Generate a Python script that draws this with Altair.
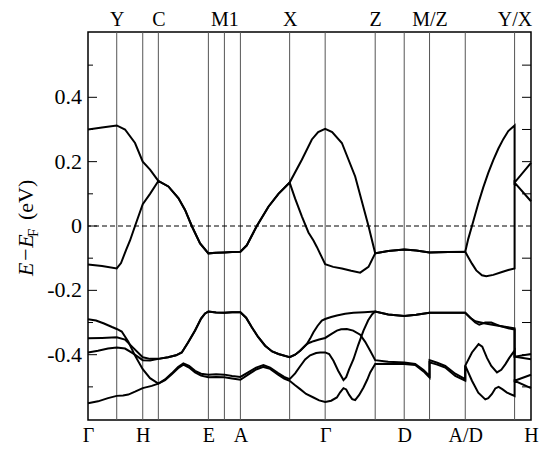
import altair as alt
import pandas as pd

# ---- k-path (high-symmetry points) ----
bottom_k = [0, 54.7, 120.3, 152.3, 237, 316, 377, 442.7]
bottom_names = ["Γ", "H", "E", "A", "Γ", "D", "A/D", "H"]
top_k = [28.7, 70.3, 136.3, 201.5, 287, 341.3, 426.3]
top_names = ["Y", "C", "M1", "X", "Z", "M/Z", "Y/X"]
sym_lines_k = [28.7, 54.7, 70.3, 120.3, 136.3, 152.3, 201.5, 237, 287, 316, 341.3, 377, 426.3]

# ---- y ticks ----
major_ticks = [-0.4, -0.2, 0, 0.2, 0.4]
major_labels = ["-0.4", "-0.2", "0", "0.2", "0.4"]
minor_ticks = [-0.5, -0.3, -0.1, 0.1, 0.3, 0.5]
right_ticks = [-0.5, -0.4, -0.3, -0.2, -0.1, 0.1, 0.2, 0.3, 0.4, 0.5]

# ---- bands near the Fermi level ----
u1_k = [0, 14, 28.7, 37, 47, 54.7, 62, 70.3, 80.3, 90.3, 97, 103.7, 112, 120.3, 128, 136.3, 144, 152.3,
        158.7, 168.7, 180.3, 190.3, 201.5, 213.7, 223.7, 230, 237, 244, 253.7, 267, 280.3, 287,
        300, 316, 328, 341.3, 360, 377, 380, 383.7, 390, 395, 400, 405, 410, 415, 420, 426.3, 426.3, 442.7]
u1_e = [0.30, 0.306, 0.3125, 0.30, 0.258, 0.20, 0.175, 0.14, 0.123, 0.087, 0.05, 0.0, -0.054, -0.085, -0.083, -0.082, -0.081, -0.08,
        -0.06, 0.0, 0.06, 0.10, 0.135, 0.206, 0.269, 0.292, 0.302, 0.292, 0.258, 0.154, 0.0, -0.085,
        -0.078, -0.073, -0.076, -0.082, -0.081, -0.08, -0.04, 0.0, 0.07, 0.12, 0.165, 0.205, 0.24, 0.27, 0.295, 0.3125, 0.135, 0.196]

u2_k = [0, 14, 28.7, 33, 38, 42, 47, 54.7, 62, 70.3, 80.3, 90.3, 97, 103.7, 112, 120.3, 128, 136.3, 144, 152.3,
        158.7, 168.7, 180.3, 190.3, 201.5, 207, 213.7, 220.3, 225.3, 228.7, 233, 237, 245, 253.7, 263, 272, 280.3, 287,
        300, 316, 328, 341.3, 360, 377, 380, 383.7, 388, 393.7, 398, 405, 413.7, 420, 426.3, 426.3, 442.7]
u2_e = [-0.12, -0.124, -0.132, -0.115, -0.075, -0.045, 0.0, 0.068, 0.10, 0.14, 0.123, 0.087, 0.05, 0.0, -0.054, -0.085, -0.083, -0.082, -0.081, -0.08,
        -0.06, 0.0, 0.06, 0.10, 0.135, 0.085, 0.03, -0.02, -0.045, -0.065, -0.093, -0.119, -0.127, -0.132, -0.139, -0.145, -0.127, -0.085,
        -0.078, -0.073, -0.076, -0.082, -0.081, -0.08, -0.097, -0.117, -0.138, -0.153, -0.156, -0.152, -0.143, -0.137, -0.132, 0.135, 0.077]

# ---- valence bands ----
a_k = [0, 8, 16, 24, 28.7, 33.7, 40.3, 47, 54.7, 62, 70.3,
       77, 83.7, 90, 95.3, 101, 107, 113, 120.3, 128, 136.3, 144, 152.3, 160, 168, 175.3, 182, 190, 196, 201.5,
       207, 212, 217, 222, 228, 232, 237, 241, 245.3, 250, 255.3, 258, 261, 265.3, 270, 275.3, 280, 284, 287,
       300, 316, 328, 341.3, 360, 377,
       382, 387, 391, 397, 403, 412, 420, 426.3, 426.3, 442.7]
a_e = [-0.29, -0.294, -0.303, -0.314, -0.32, -0.328, -0.36, -0.403, -0.445, -0.473, -0.49,
       -0.477, -0.458, -0.438, -0.427, -0.435, -0.45, -0.459, -0.462, -0.461, -0.462, -0.466, -0.469, -0.455, -0.44, -0.432, -0.44, -0.457, -0.469, -0.476,
       -0.458, -0.436, -0.415, -0.402, -0.395, -0.393, -0.393, -0.398, -0.419, -0.45, -0.479, -0.47, -0.445, -0.414, -0.37, -0.325, -0.293, -0.274, -0.266,
       -0.275, -0.28, -0.276, -0.27, -0.27, -0.27,
       -0.285, -0.300, -0.307, -0.300, -0.300, -0.311, -0.318, -0.322, -0.406, -0.398]

b_k = [0, 14, 28.7, 37, 45, 54.7, 62, 70.3,
       80, 88, 93.7, 100, 107, 113, 117, 120.3, 128, 136.3, 144, 152.3, 158, 163.7, 170, 177, 184, 190.3, 201.5,
       207, 212, 218.7, 222, 225.3, 229.5, 233.7, 237, 243, 248.7, 257, 265.3, 276, 287,
       300, 316, 328, 341.3, 360, 377,
       382, 387, 397, 410, 426.3, 426.3, 442.7]
b_e = [-0.349, -0.348, -0.346, -0.353, -0.378, -0.408, -0.413, -0.413,
       -0.408, -0.402, -0.393, -0.362, -0.325, -0.288, -0.272, -0.266, -0.269, -0.27, -0.268, -0.268, -0.285, -0.315, -0.345, -0.372, -0.39, -0.398, -0.408,
       -0.4, -0.388, -0.367, -0.35, -0.33, -0.31, -0.294, -0.289, -0.283, -0.278, -0.273, -0.27, -0.268, -0.266,
       -0.275, -0.28, -0.276, -0.27, -0.27, -0.27,
       -0.285, -0.296, -0.303, -0.31, -0.318, -0.406, -0.414]

c_k = [0, 10, 20, 28.7, 37, 45, 54.7, 62, 70.3,
       80, 88, 93.7, 100, 107, 113, 117, 120.3, 128, 136.3, 144, 152.3, 158, 163.7, 170, 177, 184, 190.3, 201.5,
       207, 212, 218.7, 222, 225.3, 231, 237, 243, 248.7, 253, 258.7, 265, 272, 277, 282, 287,
       300, 316, 327, 335.3, 341.3, 341.3, 349, 357, 367, 377,
       377, 383.7, 390.3, 394, 398.7, 403, 408.7, 413, 417, 421, 426.3, 426.3, 442.7]
c_e = [-0.393, -0.388, -0.381, -0.378, -0.381, -0.396, -0.417, -0.418, -0.413,
       -0.408, -0.402, -0.393, -0.362, -0.325, -0.288, -0.272, -0.266, -0.269, -0.27, -0.268, -0.268, -0.285, -0.315, -0.345, -0.372, -0.39, -0.398, -0.408,
       -0.4, -0.388, -0.367, -0.362, -0.358, -0.353, -0.348, -0.336, -0.325, -0.321, -0.32, -0.325, -0.338, -0.36, -0.388, -0.417,
       -0.422, -0.424, -0.429, -0.448, -0.466, -0.417, -0.425, -0.435, -0.459, -0.476,
       -0.434, -0.393, -0.367, -0.375, -0.41, -0.435, -0.455, -0.447, -0.43, -0.41, -0.3875, -0.481, -0.4625]

d_k = [0, 10, 20, 28.7, 35, 40.3, 47, 54.7, 63.7, 70.3,
       77, 83.7, 90, 95.3, 101, 107, 113, 120.3, 128, 136.3, 144, 152.3, 160, 168, 175.3, 182, 190, 196, 201.5,
       207, 212, 218, 225.3, 231, 237, 243, 248.7, 252, 255.3, 258, 261, 264, 267, 271, 275.3, 279, 282, 287,
       300, 316, 327, 335.3, 341.3, 341.3, 349, 357, 367, 377,
       377, 380, 383.7, 390, 397, 400, 403.7, 407, 410.3, 414, 418.7, 426.3, 426.3, 442.7]
d_e = [-0.551, -0.545, -0.535, -0.528, -0.527, -0.524, -0.515, -0.504, -0.497, -0.49,
       -0.479, -0.461, -0.442, -0.431, -0.44, -0.455, -0.465, -0.47, -0.469, -0.47, -0.474, -0.478, -0.462, -0.446, -0.438, -0.444, -0.462, -0.474, -0.481,
       -0.495, -0.507, -0.522, -0.533, -0.542, -0.547, -0.543, -0.533, -0.517, -0.504, -0.508, -0.525, -0.538, -0.541, -0.525, -0.502, -0.478, -0.455, -0.429,
       -0.428, -0.429, -0.432, -0.452, -0.471, -0.424, -0.431, -0.44, -0.466, -0.481,
       -0.434, -0.455, -0.481, -0.518, -0.539, -0.535, -0.522, -0.505, -0.5, -0.507, -0.518, -0.528, -0.481, -0.504]

bands = {"u1": (u1_k, u1_e), "u2": (u2_k, u2_e), "a": (a_k, a_e),
         "b": (b_k, b_e), "c": (c_k, c_e), "d": (d_k, d_e)}
rows = []
for name, (ks, es) in bands.items():
    for i, (k, e) in enumerate(zip(ks, es)):
        rows.append({"band": name, "i": i, "k": k, "E": e})
band_df = pd.DataFrame(rows)


def label_expr(ks, names):
    s = "''"
    for k, n in reversed(list(zip(ks, names))):
        s = f"abs(datum.value-{k})<0.05 ? '{n}' : ({s})"
    return s


FONT = "Liberation Serif"
W, H = 443, 388
xscale = alt.Scale(domain=[0, 442.7], nice=False, zero=False)
yscale = alt.Scale(domain=[-0.603, 0.603], nice=False, zero=False)

bottom_axis = alt.Axis(orient="bottom", values=bottom_k, labelExpr=label_expr(bottom_k, bottom_names),
                       ticks=False, domain=False, grid=False, labelFontSize=20, labelFont=FONT,
                       labelColor="black", labelPadding=5, labelFlush=False, labelOverlap=False, title=None)
top_axis = alt.Axis(orient="top", values=top_k, labelExpr=label_expr(top_k, top_names),
                    ticks=False, domain=False, grid=False, labelFontSize=20, labelFont=FONT,
                    labelColor="black", labelPadding=3, labelFlush=False, labelOverlap=False, title=None)

vlines = alt.Chart(pd.DataFrame({"k": sym_lines_k})).mark_rule(color="#555555", strokeWidth=1).encode(
    x=alt.X("k:Q", scale=xscale, axis=top_axis)
)

zero = alt.Chart(pd.DataFrame({"E": [0]})).mark_rule(color="black", strokeWidth=1, strokeDash=[5, 3]).encode(
    y=alt.Y("E:Q", scale=yscale, axis=None)
)

lines = alt.Chart(band_df).mark_line(color="black", strokeWidth=2).encode(
    x=alt.X("k:Q", scale=xscale, axis=bottom_axis),
    y=alt.Y("E:Q", scale=yscale, axis=None),
    detail="band:N",
    order="i:Q",
)

maj = alt.Chart(pd.DataFrame({"E": major_ticks})).mark_rule(color="black", strokeWidth=1).encode(
    y=alt.Y("E:Q", scale=yscale, axis=None), x=alt.value(0), x2=alt.value(9))
mnr = alt.Chart(pd.DataFrame({"E": minor_ticks})).mark_rule(color="black", strokeWidth=1).encode(
    y=alt.Y("E:Q", scale=yscale, axis=None), x=alt.value(0), x2=alt.value(5))
rgt = alt.Chart(pd.DataFrame({"E": right_ticks})).mark_rule(color="black", strokeWidth=1).encode(
    y=alt.Y("E:Q", scale=yscale, axis=None), x=alt.value(W - 9), x2=alt.value(W))

ylabels = alt.Chart(pd.DataFrame({"E": major_ticks, "lab": major_labels})).mark_text(
    font=FONT, fontSize=22, align="right", baseline="middle", color="black").encode(
    y=alt.Y("E:Q", scale=yscale, axis=None), x=alt.value(-6), text="lab:N")

one = pd.DataFrame({"t": [0]})
t1 = alt.Chart(one).mark_text(text="E−E", font=FONT, fontSize=22, fontStyle="italic", angle=270,
                              align="left", baseline="alphabetic", color="black").encode(
    x=alt.value(-55), y=alt.value(244))
t2 = alt.Chart(one).mark_text(text="F", font=FONT, fontSize=15, angle=270,
                              align="left", baseline="alphabetic", color="black").encode(
    x=alt.value(-50), y=alt.value(205))
t3 = alt.Chart(one).mark_text(text="(eV)", font=FONT, fontSize=22, angle=270,
                              align="left", baseline="alphabetic", color="black").encode(
    x=alt.value(-55), y=alt.value(188))

chart = alt.layer(vlines, zero, maj, mnr, rgt, lines, ylabels, t1, t2, t3).properties(
    width=W, height=H,
    autosize=alt.AutoSizeParams(type="none"),
    padding={"left": 80, "top": 24, "right": 11, "bottom": 24},
    background="white",
).configure_view(stroke="black", strokeWidth=1.5)

chart.save("out.html", embed_options={"renderer": "svg", "actions": False})
